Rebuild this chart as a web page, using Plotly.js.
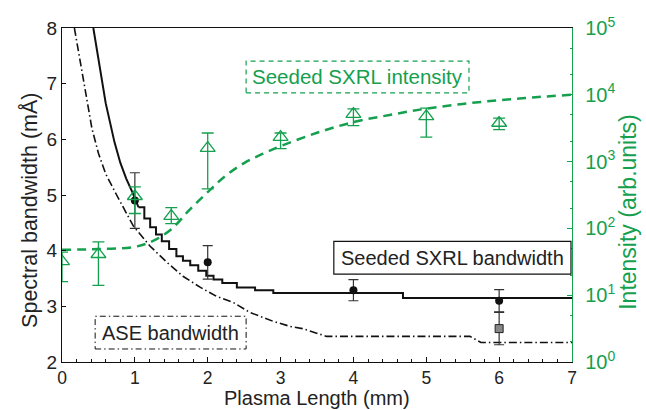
<!DOCTYPE html>
<html>
<head>
<meta charset="utf-8">
<script src="https://cdn.plot.ly/plotly-3.0.1.min.js"></script>
<style>html,body{margin:0;padding:0;background:#fff;}#chart{width:646px;height:410px;}</style>
</head>
<body>
<div id="chart"></div>
<script>
// Seeded SXRL bandwidth model (solid): smooth upper part, then staircase
const seededSmoothX = [0.43,0.5,0.55,0.6,0.66,0.72,0.8,0.88,0.97,1.05];
const seededSmoothY = [8.0,7.45,7.0,6.65,6.3,5.95,5.58,5.3,5.04,4.78];
const seededStepX = [1.05,1.13,1.21,1.29,1.37,1.47,1.57,1.66,1.76,1.87,1.98,2.08,2.2,2.4,2.65,2.9,4.68,7];
const seededStepY = [4.78,4.58,4.42,4.29,4.17,4.03,3.9,3.82,3.74,3.64,3.55,3.48,3.42,3.34,3.29,3.24,3.15,3.15];
// ASE bandwidth model (dash-dot)
const aseX = [0.17,0.25,0.33,0.41,0.5,0.6,0.75,0.98,1.21,1.44,1.66,1.9,2.12,2.35,2.58,2.9,3.13,3.3,3.63,5.6,5.75,7];
const aseY = [8.0,7.4,6.8,6.2,5.75,5.38,5.0,4.44,4.08,3.79,3.54,3.34,3.18,3.07,2.89,2.73,2.64,2.6,2.46,2.46,2.35,2.35];
// Measured seeded bandwidth (dots)
const bwX = [1,2,4,6];
const bwY = [4.90,3.79,3.29,3.10];
const bwErr = [0.5,0.3,0.19,0.2];
// Measured ASE bandwidth (square)
const aseMeasX = [6];
const aseMeasY = [2.60];
const aseMeasErr = [0.29];
// Seeded SXRL intensity (triangles, right log axis)
const intX = [0,0.5,1,1.5,2,3,4,5,6];
const intY = [32,41,303,153,1590,2330,5150,4760,3780];
const intErrPlus = [12,22,115,51,1090,350,990,1560,710];
const intErrMinus = [16,27,136,35,1200,770,1700,2430,760];
// Intensity model (dashed)
const fitX = [0,0.5,1,1.25,1.5,1.75,2,2.25,2.5,2.75,3,3.5,4,4.5,5,5.5,6,6.5,7];
const fitY = [48,49,53,65,97,190,350,620,950,1300,1700,2700,3900,5000,6200,7300,8300,9200,10000];
// Axis tick labels and titles
const xTicks = [0,1,2,3,4,5,6,7];
const yTicks = [2,3,4,5,6,7,8];
const y2TickVals = [1,10,100,1000,10000,100000];
const y2TickText = ['10<sup>0</sup>','10<sup>1</sup>','10<sup>2</sup>','10<sup>3</sup>','10<sup>4</sup>','10<sup>5</sup>'];
const xTitle = 'Plasma Length (mm)';
const yTitle = 'Spectral bandwidth (mÅ)';
const y2Title = 'Intensity (arb.units)';

const GREEN = '#14a04e';
const INK = '#222';
const FONT = 'Liberation Sans, Arial, sans-serif';

const traces = [
  {x: fitX, y: fitY, yaxis: 'y2', mode: 'lines', line: {color: GREEN, width: 2.5, dash: '9px,6px', shape: 'spline'}},
  {x: aseX, y: aseY, mode: 'lines', line: {color: '#111', width: 1.6, dash: '8px,3px,1.5px,3px'}},
  {x: seededSmoothX, y: seededSmoothY, mode: 'lines', line: {color: '#111', width: 2}},
  {x: seededStepX, y: seededStepY, mode: 'lines', line: {color: '#111', width: 2, shape: 'hv'}},
  {x: bwX, y: bwY, mode: 'markers', marker: {color: '#111', size: 8},
   error_y: {type: 'data', array: bwErr, visible: true, color: '#333', thickness: 1.2, width: 5}},
  {x: aseMeasX, y: aseMeasY, mode: 'markers', marker: {color: '#888', size: 8, symbol: 'square', line: {color: '#222', width: 1}},
   error_y: {type: 'data', array: aseMeasErr, visible: true, color: '#333', thickness: 1.2, width: 5}},
  {x: intX, y: intY, yaxis: 'y2', mode: 'markers',
   marker: {color: GREEN, size: 13, symbol: 'triangle-up-open', line: {width: 1.3, color: GREEN}},
   error_y: {type: 'data', symmetric: false, array: intErrPlus, arrayminus: intErrMinus, visible: true, color: GREEN, thickness: 1.3, width: 6}}
];

const layout = {
  width: 646, height: 410,
  margin: {l: 62, r: 74, t: 28, b: 48},
  paper_bgcolor: '#fff', plot_bgcolor: '#fff',
  showlegend: false,
  font: {family: FONT, color: INK, size: 18},
  xaxis: {
    range: [0, 7], tickvals: xTicks, ticks: 'inside', ticklen: 5, tickcolor: '#111',
    showline: true, linecolor: '#111', linewidth: 1.2, mirror: true, zeroline: false, showgrid: false,
    tickfont: {size: 17.5, color: INK, family: FONT},
    minor: {dtick: 0.2, ticks: 'inside', ticklen: 3, tickcolor: '#111', showgrid: false}
  },
  yaxis: {
    range: [2, 8], tickvals: yTicks, ticks: 'inside', ticklen: 4, tickcolor: '#111',
    showline: true, linecolor: '#111', linewidth: 1.2, zeroline: false, showgrid: false,
    tickfont: {size: 19, color: INK, family: FONT}
  },
  yaxis2: {
    type: 'log', range: [0, 5], overlaying: 'y', side: 'right',
    tickvals: y2TickVals, ticktext: y2TickText, ticks: 'inside', ticklen: 5, tickcolor: GREEN,
    showline: true, linecolor: GREEN, linewidth: 1.2, zeroline: false, showgrid: false,
    tickfont: {size: 20, color: GREEN, family: FONT}, ticklabelstandoff: 8,
    minor: {ticks: 'inside', ticklen: 2.5, tickcolor: GREEN, showgrid: false}
  },
  shapes: [
    {type: 'rect', xref: 'paper', yref: 'paper', x0: 0.361, x1: 0.798, y0: 0.806, y1: 0.901,
     line: {color: GREEN, width: 1.2, dash: '5px,4px'}, fillcolor: 'rgba(0,0,0,0)'},
    {type: 'rect', xref: 'paper', yref: 'paper', x0: 0.533, x1: 0.998, y0: 0.263, y1: 0.361,
     line: {color: '#111', width: 1.2}, fillcolor: '#fff'},
    {type: 'rect', xref: 'paper', yref: 'paper', x0: 0.065, x1: 0.361, y0: 0.039, y1: 0.137,
     line: {color: '#111', width: 1, dash: '6px,3px,1.5px,3px'}, fillcolor: '#fff'}
  ],
  annotations: [
    {xref: 'paper', yref: 'paper', x: 0.580, y: 0.854, text: 'Seeded SXRL intensity', showarrow: false,
     font: {size: 20.5, color: GREEN, family: FONT}, xanchor: 'center', yanchor: 'middle'},
    {xref: 'paper', yref: 'paper', x: 0.766, y: 0.312, text: 'Seeded SXRL bandwidth', showarrow: false,
     font: {size: 20, color: INK, family: FONT}, xanchor: 'center', yanchor: 'middle'},
    {xref: 'paper', yref: 'paper', x: 0.213, y: 0.088, text: 'ASE bandwidth', showarrow: false,
     font: {size: 20, color: INK, family: FONT}, xanchor: 'center', yanchor: 'middle'},
    {xref: 'paper', yref: 'paper', x: 0.5, y: -0.145, text: xTitle, showarrow: false, borderpad: 0,
     font: {size: 20, color: INK, family: FONT}, xanchor: 'center', yanchor: 'bottom'},
    {xref: 'paper', yref: 'paper', x: -0.063, y: 0.455, text: yTitle, showarrow: false, textangle: -90,
     font: {size: 21.5, color: INK, family: FONT}, xanchor: 'center', yanchor: 'middle'},
    {xref: 'paper', yref: 'paper', x: 1.11, y: 0.45, text: y2Title, showarrow: false, textangle: -90,
     font: {size: 23, color: GREEN, family: FONT}, xanchor: 'center', yanchor: 'middle'}
  ]
};

Plotly.newPlot('chart', traces, layout, {displayModeBar: false, staticPlot: true});
</script>
</body>
</html>
